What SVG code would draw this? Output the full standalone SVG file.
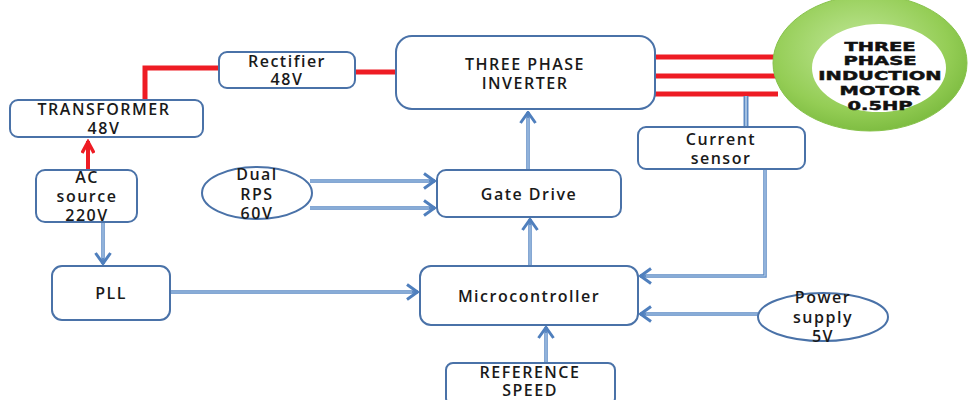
<svg xmlns="http://www.w3.org/2000/svg" width="979" height="400" viewBox="0 0 979 400">
  <defs>
    <marker id="chev" viewBox="0 0 14 18" refX="13" refY="9" markerWidth="14" markerHeight="18" markerUnits="userSpaceOnUse" orient="auto">
      <path d="M2,1.5 L12.5,9 L2,16.5" fill="none" stroke="#4f7fbd" stroke-width="3" stroke-linejoin="miter"/>
    </marker>
    <marker id="redchev" viewBox="0 0 16 14" refX="14" refY="7" markerWidth="16" markerHeight="14" markerUnits="userSpaceOnUse" orient="auto">
      <path d="M2,1 L13,7 L2,13" fill="none" stroke="#ee1c24" stroke-width="3.5"/>
    </marker>
    <radialGradient id="ringGrad" cx="0.45" cy="0.4" r="0.65">
      <stop offset="0" stop-color="#c2e89a"/>
      <stop offset="0.7" stop-color="#94cd55"/>
      <stop offset="1" stop-color="#78b83c"/>
    </radialGradient>
  </defs>
  <style>
    .box { fill: #ffffff; stroke: #4a72a8; stroke-width: 2; }
    .lbl { font-family: "Open Sans", "Liberation Sans", sans-serif; font-weight: 600; font-size: 16px; letter-spacing: 1.5px; fill: #1a1a1a; text-anchor: middle; }
    .motor { font-family: "DejaVu Sans", "Liberation Sans", sans-serif; font-weight: bold; font-size: 13px; fill: #111; stroke: #111; stroke-width: 0.5; text-anchor: middle; }
    .red { fill: none; stroke: #ee1c24; stroke-width: 5; }
    .wireO { fill: none; stroke: #5d8ac4; stroke-width: 5; }
    .wireI { fill: none; stroke: #b4cde9; stroke-width: 1.6; }
    .arr { fill: none; stroke: #5d8ac4; stroke-width: 3.5; marker-end: url(#chev); }
    .arrI { fill: none; stroke: #b4cde9; stroke-width: 1.2; }
  </style>

  <rect width="979" height="400" fill="#ffffff"/>

  <g id="connectors">
    <!-- power path (red) -->
    <path class="red" d="M145,100 V68 H219"/>
    <path class="red" d="M355,72 H396"/>
    <path class="red" d="M655,57 H778"/>
    <path class="red" d="M655,76 H776"/>
    <path class="red" d="M655,94 H778"/>
    <line x1="88" y1="170" x2="88" y2="141" stroke="#ee1c24" stroke-width="4" marker-end="url(#redchev)"/>

    <!-- signal path (blue double lines) -->
    <path class="arr" d="M103,222 V264"/>
    <path class="arrI" d="M103,222 V258"/>
    <path class="arr" d="M170,292 H418"/>
    <path class="arrI" d="M170,292 H412"/>
    <path class="arr" d="M530,266 V219"/>
    <path class="arrI" d="M530,266 V225"/>
    <path class="arr" d="M528,170 V112"/>
    <path class="arrI" d="M528,170 V118"/>
    <path class="arr" d="M310,181 H435"/>
    <path class="arrI" d="M310,181 H429"/>
    <path class="arr" d="M310,208 H435"/>
    <path class="arrI" d="M310,208 H429"/>
    <path class="wireO" d="M746,96 V127"/>
    <path class="wireI" d="M746,96 V127"/>
    <path class="arr" d="M765,169 V276 H640"/>
    <path class="arrI" d="M765,169 V276 H646"/>
    <path class="arr" d="M758,314 H640"/>
    <path class="arrI" d="M758,314 H646"/>
    <path class="arr" d="M546,363 V327"/>
    <path class="arrI" d="M546,363 V333"/>
  </g>

  <g id="rectifier">
    <rect class="box" x="219" y="52" width="136" height="36" rx="8"/>
    <text class="lbl" x="287" y="67">Rectifier</text>
    <text class="lbl" x="287" y="85">48V</text>
  </g>

  <g id="transformer">
    <rect class="box" x="10" y="100" width="193" height="37" rx="8"/>
    <text class="lbl" x="104" y="115">TRANSFORMER</text>
    <text class="lbl" x="104" y="134">48V</text>
  </g>

  <g id="inverter">
    <rect class="box" x="396" y="36" width="259" height="73" rx="16"/>
    <text class="lbl" x="525" y="70">THREE PHASE</text>
    <text class="lbl" x="525" y="89">INVERTER</text>
  </g>

  <g id="motor">
    <ellipse cx="870" cy="63" rx="97" ry="68" fill="url(#ringGrad)" stroke="#86c24a" stroke-width="1"/>
    <ellipse cx="879" cy="68" rx="67" ry="44" fill="#ffffff"/>
    <!-- wide heavy caps: regular bold face stretched horizontally -->
    <g transform="translate(880,0) scale(1.5,1)">
      <text class="motor" x="0" y="51">THREE</text>
      <text class="motor" x="0" y="65">PHASE</text>
      <text class="motor" x="0" y="80">INDUCTION</text>
      <text class="motor" x="0" y="95">MOTOR</text>
      <text class="motor" x="0" y="110">0.5HP</text>
    </g>
  </g>

  <g id="current-sensor">
    <rect class="box" x="638" y="127" width="167" height="42" rx="8"/>
    <text class="lbl" x="721" y="145">Current</text>
    <text class="lbl" x="721" y="164">sensor</text>
  </g>

  <g id="ac-source">
    <rect class="box" x="36" y="170" width="101" height="52" rx="9"/>
    <text class="lbl" x="87" y="183">AC</text>
    <text class="lbl" x="87" y="202">source</text>
    <text class="lbl" x="87" y="221">220V</text>
  </g>

  <g id="dual-rps">
    <ellipse class="box" cx="257" cy="193" rx="55" ry="26"/>
    <text class="lbl" x="257" y="180">Dual</text>
    <text class="lbl" x="257" y="200">RPS</text>
    <text class="lbl" x="257" y="219">60V</text>
  </g>

  <g id="gate-drive">
    <rect class="box" x="437" y="170" width="184" height="47" rx="9"/>
    <text class="lbl" x="529" y="200">Gate Drive</text>
  </g>

  <g id="pll">
    <rect class="box" x="52" y="266" width="118" height="54" rx="10"/>
    <text class="lbl" x="111" y="299">PLL</text>
  </g>

  <g id="microcontroller">
    <rect class="box" x="420" y="266" width="218" height="59" rx="11"/>
    <text class="lbl" x="529" y="302">Microcontroller</text>
  </g>

  <g id="power-supply">
    <ellipse class="box" cx="823" cy="317" rx="65" ry="24"/>
    <text class="lbl" x="823" y="303">Power</text>
    <text class="lbl" x="823" y="323">supply</text>
    <text class="lbl" x="823" y="342">5V</text>
  </g>

  <g id="reference-speed">
    <rect class="box" x="446" y="363" width="169" height="42" rx="7"/>
    <text class="lbl" x="530" y="378">REFERENCE</text>
    <text class="lbl" x="530" y="396">SPEED</text>
  </g>
</svg>
